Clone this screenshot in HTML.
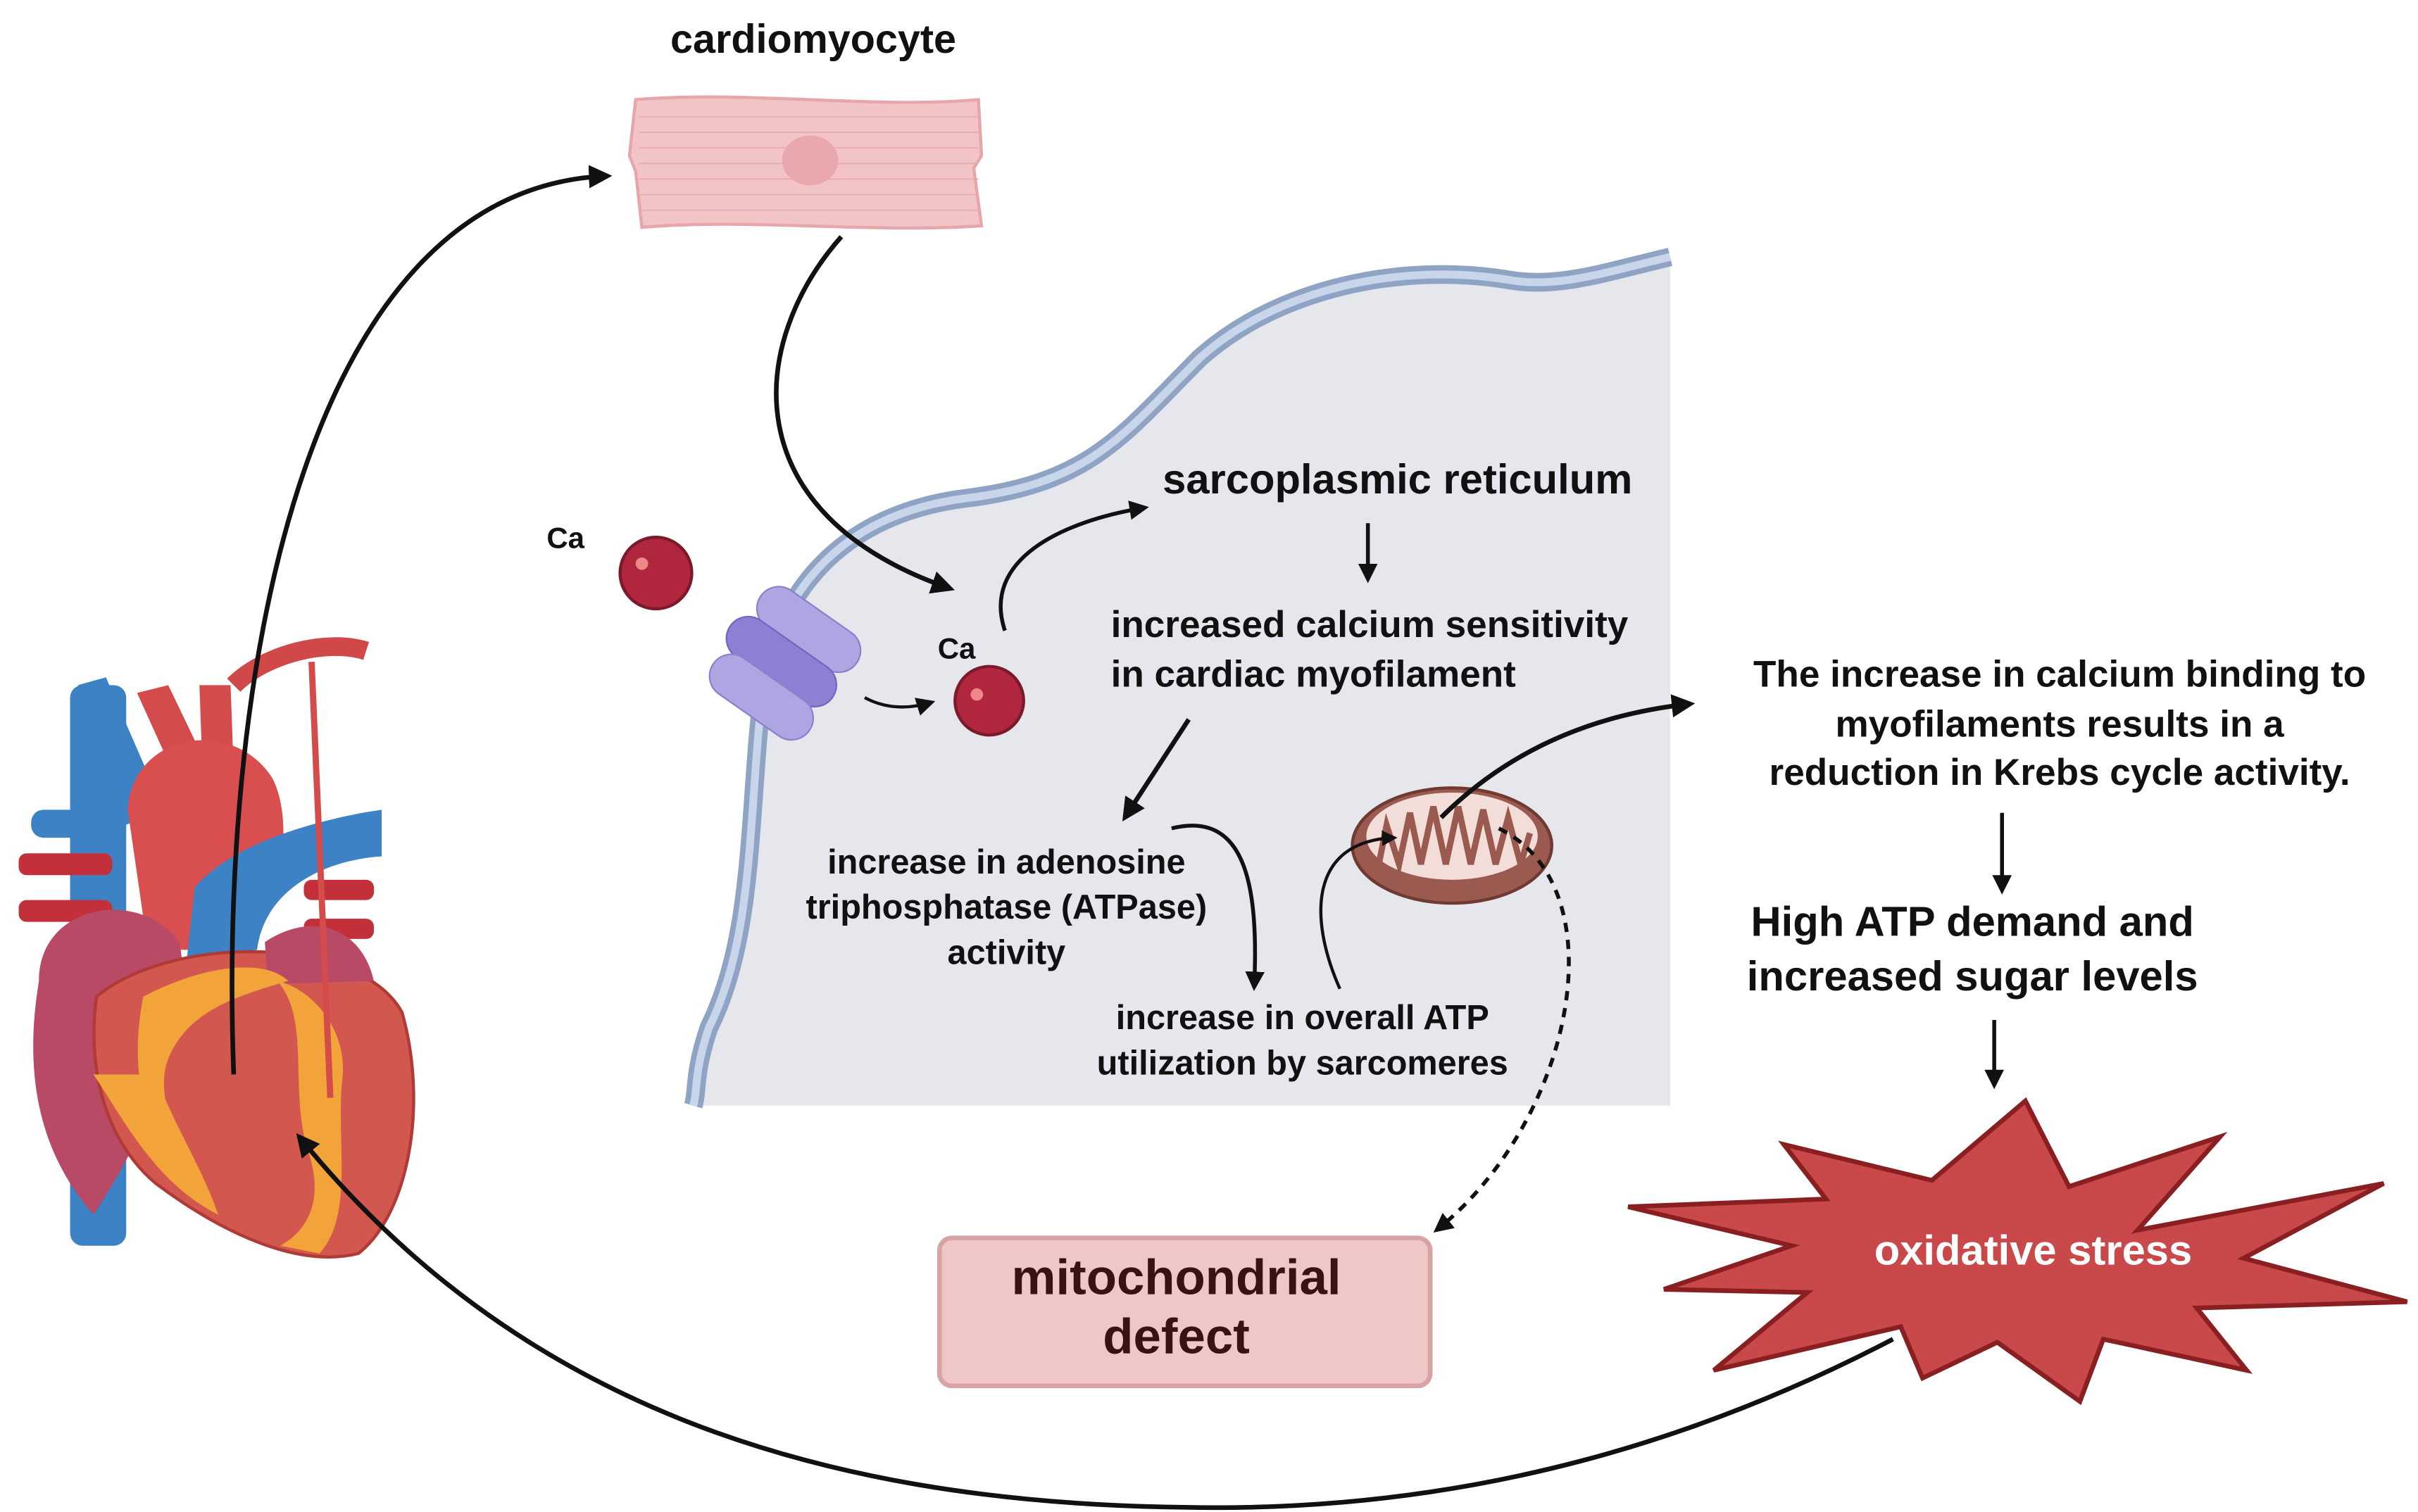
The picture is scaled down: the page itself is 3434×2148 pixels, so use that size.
<!DOCTYPE html>
<html><head><meta charset="utf-8"><style>
html,body{margin:0;padding:0;background:#fff;}
svg{display:block;}
text{font-family:"Liberation Sans",sans-serif;font-weight:bold;fill:#111;}
</style></head><body>
<svg width="3434" height="2148" viewBox="0 0 1552 971" preserveAspectRatio="none" xmlns="http://www.w3.org/2000/svg">
<defs>
<marker id="ah" viewBox="0 0 10 10" refX="8" refY="5" markerWidth="5" markerHeight="5" orient="auto"><path d="M0,0 L10,5 L0,10 z" fill="#111"/></marker>
<marker id="ahs" viewBox="0 0 10 10" refX="8" refY="5" markerWidth="6" markerHeight="6" orient="auto"><path d="M0,0 L10,5 L0,10 z" fill="#111"/></marker>
</defs>
<!-- cell interior -->
<path d="M1072,165 C1030,175 1000,185 970,180 C900,168 820,185 770,230 C720,280 700,310 620,320 C540,330 500,380 490,440 C480,520 485,600 455,660 C445,690 448,700 445,710 L1072,710 Z" fill="#e6e7ec"/>
<path d="M1072,165 C1030,175 1000,185 970,180 C900,168 820,185 770,230 C720,280 700,310 620,320 C540,330 500,380 490,440 C480,520 485,600 455,660 C445,690 448,700 445,710" fill="none" stroke="#8fa4c4" stroke-width="12"/>
<path d="M1072,165 C1030,175 1000,185 970,180 C900,168 820,185 770,230 C720,280 700,310 620,320 C540,330 500,380 490,440 C480,520 485,600 455,660 C445,690 448,700 445,710" fill="none" stroke="#c9d5ea" stroke-width="5"/>
<!-- heart -->
<g>
<path d="M150,440 C170,420 210,410 235,418" fill="none" stroke="#d04848" stroke-width="12"/>
<rect x="45" y="440" width="36" height="360" rx="8" fill="#3c82c4"/>
<path d="M50,440 L68,435 L105,520 L80,530 Z" fill="#3c82c4"/>
<path d="M88,445 L108,440 L132,490 L112,498 Z" fill="#d44b4b"/>
<path d="M128,440 L148,440 L150,495 L130,495 Z" fill="#d44b4b"/>
<rect x="12" y="548" width="60" height="14" rx="5" fill="#c4303a"/>
<rect x="12" y="578" width="60" height="14" rx="5" fill="#c4303a"/>
<rect x="195" y="565" width="45" height="13" rx="5" fill="#c4303a"/>
<rect x="195" y="590" width="45" height="13" rx="5" fill="#c4303a"/>
<rect x="20" y="520" width="55" height="18" rx="8" fill="#3c82c4"/>
<path d="M82,520 C85,470 150,460 175,500 C190,530 180,590 150,610 L95,610 Z" fill="#d94f4f"/>
<path d="M125,570 C150,540 210,525 245,520 L245,550 C210,552 170,570 165,610 L120,615 Z" fill="#3c82c4"/>
<path d="M25,630 C25,580 90,570 115,605 C125,650 100,720 60,780 C25,740 15,690 25,630 Z" fill="#b84a66"/>
<path d="M62,640 C110,600 230,600 258,650 C275,710 262,780 230,805 C190,815 140,790 100,760 C70,735 55,690 62,640 Z" fill="#d2584f" stroke="#b03a36" stroke-width="2"/>
<path d="M170,605 C200,585 232,595 240,630 L172,632 Z" fill="#b84a66"/>
<path d="M60,690 C80,720 100,760 140,780 C130,750 110,720 100,690 Z" fill="#f2a43a"/>
<path d="M92,640 C130,620 170,615 185,630 C150,640 120,650 108,680 C100,700 110,730 130,760 C100,750 80,700 92,640 Z" fill="#f2a43a"/>
<path d="M178,630 C200,655 185,700 198,740 C208,770 198,790 180,800 L205,805 C228,780 215,730 220,690 C222,660 200,635 178,630 Z" fill="#f2a43a"/>
<path d="M200,425 L212,705" stroke="#d44b4b" stroke-width="4"/>
</g>
<!-- cardiomyocyte -->
<text x="522" y="34" font-size="26" text-anchor="middle">cardiomyocyte</text>
<path d="M408,64 C480,58 560,70 628,64 L630,100 L625,108 L630,145 C560,150 480,140 412,146 L408,110 L404,100 Z" fill="#f3c4c6" stroke="#e7a6aa" stroke-width="2"/>
<g stroke="#e9a9ad" stroke-width="0.8">
<line x1="410" y1="75" x2="628" y2="75"/><line x1="410" y1="85" x2="628" y2="85"/><line x1="410" y1="95" x2="628" y2="95"/><line x1="410" y1="105" x2="628" y2="105"/><line x1="410" y1="115" x2="628" y2="115"/><line x1="410" y1="125" x2="628" y2="125"/><line x1="410" y1="135" x2="628" y2="135"/>
</g>
<ellipse cx="520" cy="103" rx="18" ry="16" fill="#e9a8ad"/>
<!-- arrows -->
<path d="M150,690 C140,420 200,120 390,113" fill="none" stroke="#111" stroke-width="3" marker-end="url(#ah)"/>
<path d="M540,152 C480,220 470,330 610,378" fill="none" stroke="#111" stroke-width="3" marker-end="url(#ah)"/>
<!-- Ca -->
<text x="363" y="352" font-size="19" text-anchor="middle">Ca</text>
<circle cx="421" cy="368" r="23" fill="#b0263f" stroke="#7a1a2b" stroke-width="2"/>
<circle cx="412" cy="362" r="4" fill="#e88"/>
<text x="614" y="423" font-size="19" text-anchor="middle">Ca</text>
<circle cx="635" cy="450" r="22" fill="#b0263f" stroke="#7a1a2b" stroke-width="2"/>
<circle cx="627" cy="446" r="4" fill="#e88"/>
<!-- channel -->
<g transform="rotate(35 505 420)">
<rect x="470" y="385" width="75" height="28" rx="14" fill="#aea6e2" stroke="#8a80cc"/>
<rect x="465" y="412" width="80" height="28" rx="14" fill="#8c80d4" stroke="#7066bf"/>
<rect x="470" y="438" width="75" height="28" rx="14" fill="#aea6e2" stroke="#8a80cc"/>
</g>
<path d="M555,448 C570,456 585,455 598,451" fill="none" stroke="#111" stroke-width="2" marker-end="url(#ahs)"/>
<path d="M645,405 C630,360 680,335 735,326" fill="none" stroke="#111" stroke-width="2.5" marker-end="url(#ah)"/>
<!-- texts in cell -->
<text x="897" y="317" font-size="27" text-anchor="middle">sarcoplasmic reticulum</text>
<line x1="878" y1="336" x2="878" y2="372" stroke="#111" stroke-width="2.5" marker-end="url(#ah)"/>
<text x="713" y="409" font-size="24">increased calcium sensitivity</text>
<text x="713" y="441" font-size="24">in cardiac myofilament</text>
<line x1="763" y1="462" x2="722" y2="525" stroke="#111" stroke-width="3" marker-end="url(#ah)"/>
<text x="646" y="561" font-size="22" text-anchor="middle">increase in adenosine</text>
<text x="646" y="590" font-size="22" text-anchor="middle">triphosphatase (ATPase)</text>
<text x="646" y="619" font-size="22" text-anchor="middle">activity</text>
<path d="M752,532 C800,520 808,570 805,634" fill="none" stroke="#111" stroke-width="2.5" marker-end="url(#ah)"/>
<text x="836" y="661" font-size="22" text-anchor="middle">increase in overall ATP</text>
<text x="836" y="690" font-size="22" text-anchor="middle">utilization by sarcomeres</text>
<!-- mitochondrion -->
<ellipse cx="932" cy="543" rx="64" ry="37" fill="#9a5a4f" stroke="#6e3a32" stroke-width="2"/>
<ellipse cx="932" cy="537" rx="55" ry="28" fill="#f3ddd8"/>
<path d="M885,555 L890,530 L898,555 L905,522 L912,555 L920,518 L928,555 L936,518 L944,555 L952,520 L960,555 L968,525 L976,555 L982,535" fill="none" stroke="#9a5a4f" stroke-width="4"/>
<path d="M860,635 C840,590 840,540 895,538" fill="none" stroke="#111" stroke-width="2" marker-end="url(#ah)"/>
<path d="M925,525 C960,490 1010,460 1085,452" fill="none" stroke="#111" stroke-width="3" marker-end="url(#ah)"/>
<path d="M962,532 C1040,570 1010,720 922,790" fill="none" stroke="#111" stroke-width="2.5" stroke-dasharray="6,5" marker-end="url(#ah)"/>
<!-- right texts -->
<text x="1322" y="441" font-size="24" text-anchor="middle">The increase in calcium binding to</text>
<text x="1322" y="473" font-size="24" text-anchor="middle">myofilaments results in a</text>
<text x="1322" y="504" font-size="24" text-anchor="middle">reduction in Krebs cycle activity.</text>
<line x1="1285" y1="522" x2="1285" y2="572" stroke="#111" stroke-width="2.5" marker-end="url(#ah)"/>
<text x="1266" y="601" font-size="27" text-anchor="middle">High ATP demand and</text>
<text x="1266" y="636" font-size="27" text-anchor="middle">increased sugar levels</text>
<line x1="1280" y1="655" x2="1280" y2="697" stroke="#111" stroke-width="2.5" marker-end="url(#ah)"/>
<!-- star -->
<polygon points="1300,707 1328,762 1425,730 1372,790 1530,760 1440,808 1545,836 1410,840 1442,880 1350,860 1335,900 1282,862 1234,885 1220,852 1100,880 1160,830 1068,828 1150,800 1045,775 1172,770 1145,735 1240,758" fill="#c9494a" stroke="#8a1f22" stroke-width="3" stroke-linejoin="miter"/>
<text x="1305" y="812" font-size="27" text-anchor="middle" style="fill:#fff">oxidative stress</text>
<!-- mito defect box -->
<rect x="603" y="795" width="315" height="95" rx="8" fill="#efc7c7" stroke="#d8a3a3" stroke-width="3"/>
<text x="755" y="831" font-size="32" text-anchor="middle" style="fill:#3a1212">mitochondrial</text>
<text x="755" y="869" font-size="32" text-anchor="middle" style="fill:#3a1212">defect</text>
<!-- bottom curve -->
<path d="M1215,860 C1100,920 950,972 760,968 C520,965 330,900 192,730" fill="none" stroke="#111" stroke-width="3" marker-end="url(#ah)"/>
</svg>
</body></html>
